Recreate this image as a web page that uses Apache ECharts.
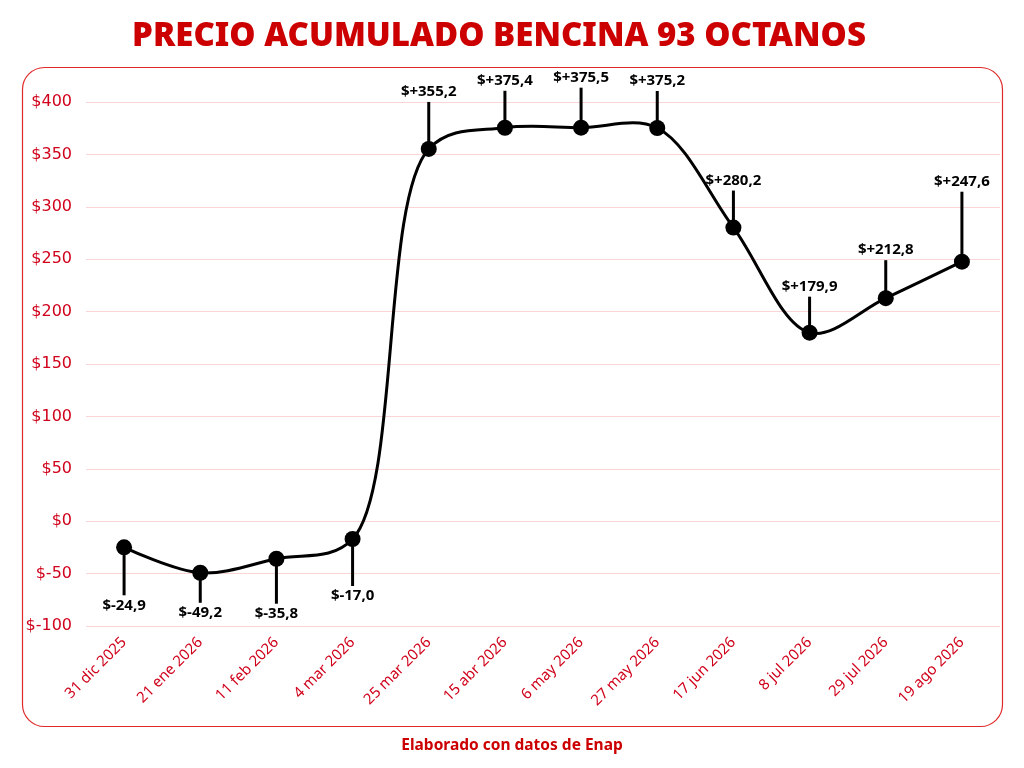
<!DOCTYPE html>
<html>
<head>
<meta charset="utf-8" />
<title>Precio acumulado bencina 93</title>
<script src="https://cdn.jsdelivr.net/npm/echarts@6/dist/echarts.min.js"></script>
<style>
html, body { margin: 0; padding: 0; background: #fff; }
#chart { width: 1024px; height: 768px; }
</style>
</head>
<body>
<div id="chart"></div>
<script>
// datos
var fechas = ['31 dic 2025', '21 ene 2026', '11 feb 2026', '4 mar 2026', '25 mar 2026', '15 abr 2026',
	'6 may 2026', '27 may 2026', '17 jun 2026', '8 jul 2026', '29 jul 2026', '19 ago 2026'];
var acumulado = [-24.9, -49.2, -35.8, -17.0, 355.2, 375.4, 375.5, 375.2, 280.2, 179.9, 212.8, 247.6];
var yTicks = [-100, 400, 50];

// largo de cada palito de etiqueta (px)
var stemLen = [48, 30, 45, 47, 47, 37, 40, 37, 37, 36, 38, 70];

var red = '#d0021b';

function fmt(v) {
	var s = Math.abs(v).toFixed(1).replace('.', ',');
	return v < 0 ? '$-' + s : '$+' + s;
}

// tramo catmull-rom centripeto entre p1 y p2 (como d3.curveCatmullRom)
function crSegment(p0, p1, p2, p3) {
	function d(a, b) { return Math.sqrt((a[0] - b[0]) * (a[0] - b[0]) + (a[1] - b[1]) * (a[1] - b[1])); }
	var l01 = d(p0, p1), l12 = d(p1, p2), l23 = d(p2, p3);
	var l01a = Math.sqrt(l01), l12a = Math.sqrt(l12), l23a = Math.sqrt(l23);
	var c1 = [p1[0], p1[1]], c2 = [p2[0], p2[1]];
	if (l01a > 1e-6) {
		var a = 2 * l01 + 3 * l01a * l12a + l12, n = 3 * l01a * (l01a + l12a);
		c1 = [(p1[0] * a - p0[0] * l12 + p2[0] * l01) / n, (p1[1] * a - p0[1] * l12 + p2[1] * l01) / n];
	}
	if (l23a > 1e-6) {
		var b = 2 * l23 + 3 * l23a * l12a + l12, m = 3 * l23a * (l23a + l12a);
		c2 = [(p2[0] * b + p1[0] * l23 - p3[0] * l12) / m, (p2[1] * b + p1[1] * l23 - p3[1] * l12) / m];
	}
	return { x1: p1[0], y1: p1[1], cpx1: c1[0], cpy1: c1[1], cpx2: c2[0], cpy2: c2[1], x2: p2[0], y2: p2[1] };
}

var myChart = echarts.init(document.getElementById('chart'));

option = {
	backgroundColor: '#fff',
	animation: false,
	title: {
		text: 'PRECIO ACUMULADO BENCINA 93 OCTANOS',
		left: 494,
		textAlign: 'center',
		top: 15,
		textStyle: {
			color: '#cc0000',
			fontFamily: 'Noto Sans',
			fontWeight: 900,
			fontSize: 33
		}
	},
	graphic: [
		{
			type: 'rect',
			shape: { x: 22.5, y: 67.5, width: 980, height: 659, r: 22 },
			style: { fill: 'none', stroke: '#e02a2a', lineWidth: 1.2 },
			z: -1
		},
		{
			type: 'text',
			left: 'center',
			top: 738,
			style: {
				text: 'Elaborado con datos de Enap',
				fill: '#cc0000',
				font: 'bold 15.5px "Noto Sans"'
			}
		}
	],
	grid: {
		left: 86,
		right: 24,
		top: 102,
		bottom: 142
	},
	xAxis: {
		type: 'category',
		data: fechas,
		boundaryGap: true,
		axisLine: { show: false },
		axisTick: { show: false },
		axisLabel: {
			rotate: 45,
			margin: 14,
			color: red,
			fontFamily: 'Noto Sans',
			fontSize: 15,
			interval: 0
		}
	},
	yAxis: {
		type: 'value',
		min: yTicks[0],
		max: yTicks[1],
		interval: yTicks[2],
		axisLine: { show: false },
		axisTick: { show: false },
		axisLabel: {
			margin: 14,
			color: red,
			fontFamily: 'DejaVu Sans',
			fontSize: 16,
			formatter: function (v) { return '$' + v; }
		},
		splitLine: {
			lineStyle: { color: '#f8d6d6', width: 1 }
		}
	},
	series: [
		// palitos y etiquetas
		{
			type: 'custom',
			data: acumulado.map(function (v, i) { return [i, v]; }),
			renderItem: function (params, api) {
				var i = api.value(0);
				var v = api.value(1);
				var p = api.coord([i, v]);
				var len = stemLen[i];
				var dir = v < 0 ? 1 : -1;
				var end = p[1] + dir * len;
				return {
					type: 'group',
					children: [
						{
							type: 'line',
							shape: { x1: p[0], y1: p[1], x2: p[0], y2: end },
							style: { stroke: '#000', lineWidth: 3 }
						},
						{
							type: 'text',
							x: p[0],
							y: end + dir * 10,
							style: {
								text: fmt(v),
								fill: '#000',
								font: 'bold 15px "Open Sans"',
								align: 'center',
								verticalAlign: 'middle'
							}
						}
					]
				};
			},
			z: 1
		},
		// curva suavizada
		{
			type: 'custom',
			data: acumulado.map(function (v, i) { return [i, v]; }),
			renderItem: function (params, api) {
				var i = api.value(0);
				var last = acumulado.length - 1;
				if (i >= last) return null;
				function pt(j) { return api.coord([j, acumulado[j]]); }
				var p0 = pt(Math.max(i - 1, 0)), p1 = pt(i), p2 = pt(i + 1), p3 = pt(Math.min(i + 2, last));
				return {
					type: 'bezierCurve',
					shape: crSegment(p0, p1, p2, p3),
					style: { stroke: '#000', lineWidth: 3, fill: null }
				};
			},
			z: 2
		},
		// puntos
		{
			type: 'scatter',
			data: acumulado,
			symbol: 'circle',
			symbolSize: 16,
			itemStyle: { color: '#000', opacity: 1 },
			z: 3
		}
	]
};

myChart.setOption(option);
</script>
</body>
</html>
